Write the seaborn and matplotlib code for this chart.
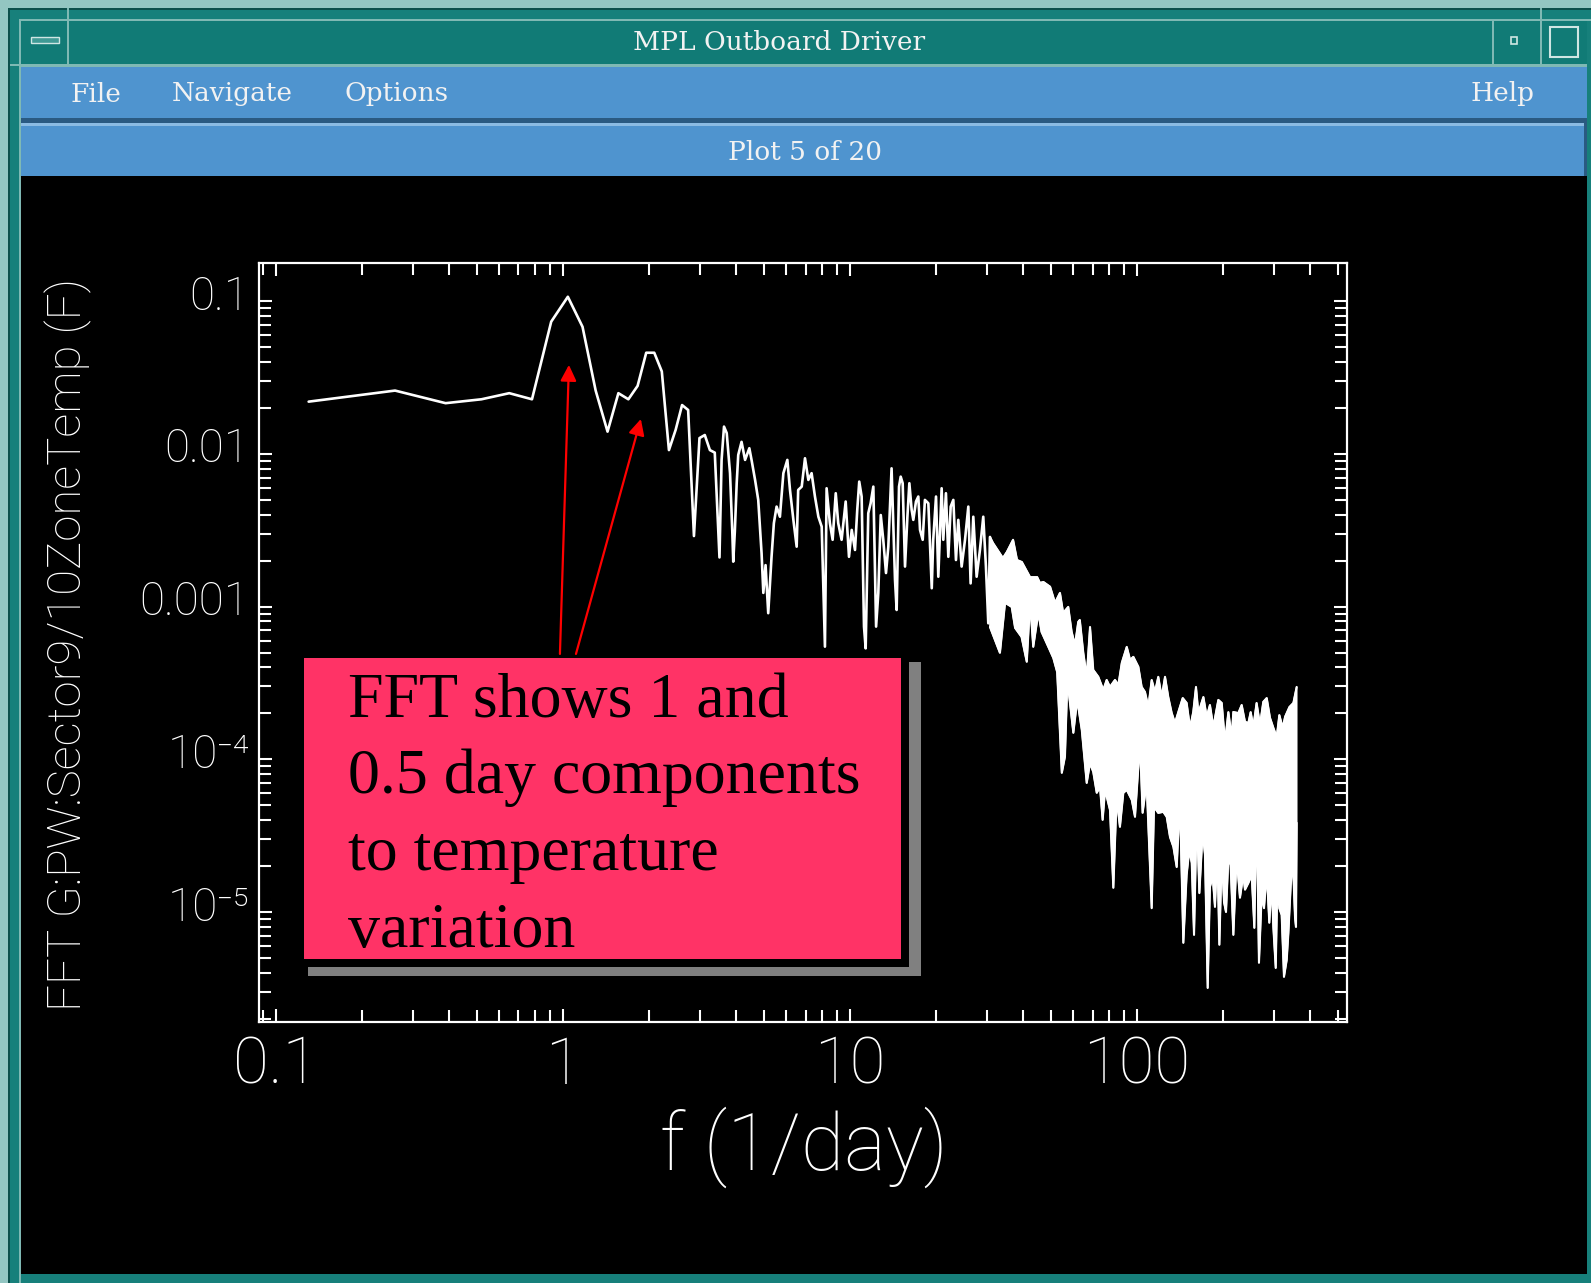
import numpy as np
import pandas as pd
import matplotlib
matplotlib.use("Agg")
import matplotlib.pyplot as plt
import matplotlib.ticker as mticker
import matplotlib.transforms as mtransforms
from matplotlib.patches import Rectangle
import seaborn as sns

# ---------------- data ----------------
# low-frequency FFT bins (1/day) and amplitude (F)
freq_low = [0.13, 0.26, 0.39, 0.52, 0.65, 0.78, 0.91, 1.04, 1.17, 1.30, 1.43, 1.56,
            1.69, 1.82, 1.95, 2.08, 2.21, 2.34, 2.47, 2.60, 2.73, 2.86, 2.99, 3.12,
            3.25, 3.38, 3.51]
amp_low = [0.022, 0.026, 0.0215, 0.0228, 0.025, 0.0228, 0.0735, 0.107, 0.068, 0.026,
           0.014, 0.025, 0.0228, 0.0279, 0.046, 0.046, 0.0347, 0.0106, 0.0144, 0.0209,
           0.0194, 0.0029, 0.0127, 0.0133, 0.0106, 0.0102, 0.0021]

# mid frequencies (traced vertices of the spiky line)
freq_mid = [3.57, 3.64, 3.72, 3.82, 3.89, 3.92, 3.97, 4.03, 4.08, 4.19, 4.31, 4.46, 4.54,
            4.67, 4.79, 4.92, 4.99, 5.08, 5.19, 5.33, 5.43, 5.55, 5.70, 5.86, 6.05, 6.18,
            6.35, 6.52, 6.60, 6.79, 6.97, 7.16, 7.35, 7.55, 7.76, 7.97, 8.18, 8.29, 8.51,
            8.70, 8.92, 9.10, 9.35, 9.66, 9.92, 10.14, 10.41, 10.60, 10.77, 10.98, 11.19,
            11.34, 11.58, 11.80, 12.06, 12.33, 12.55, 12.80, 13.06, 13.35, 13.60, 13.96,
            14.35, 14.54, 14.82,
            15.02, 15.26, 15.55, 15.85, 16.10, 16.40, 16.62, 16.98, 17.30, 17.54, 17.92,
            18.24, 18.75, 19.27, 19.50, 19.94, 20.31, 20.86, 21.14, 21.59, 22.01, 22.43,
            22.91, 23.40, 23.84, 24.49, 25.16, 25.84, 26.32, 26.89, 27.62, 28.36, 29.13,
            29.76, 30.33]
amp_mid = [0.00914, 0.0151, 0.0137, 0.00748, 0.00310, 0.00197, 0.00310, 0.00643, 0.00985,
           0.0120, 0.00914, 0.0109, 0.00914, 0.00676, 0.00500, 0.00224, 0.00123, 0.00187,
           0.000906, 0.00212, 0.00352, 0.00452, 0.00388, 0.00748, 0.00914, 0.00581,
           0.00370, 0.00247, 0.00581, 0.00611, 0.00937, 0.00676, 0.00748, 0.00526, 0.00388,
           0.00334, 0.000547, 0.00596, 0.00352, 0.00274, 0.00553, 0.00352, 0.00274,
           0.00488, 0.00212, 0.00318, 0.00235, 0.00430, 0.00659, 0.00526, 0.000740,
           0.000533, 0.00409, 0.00475, 0.00611, 0.000740, 0.00123, 0.00398, 0.00274,
           0.00166, 0.00247, 0.00805, 0.00150, 0.000951, 0.00611,
           0.00710, 0.00643, 0.00183, 0.00388, 0.00643, 0.00430, 0.00370, 0.00488,
           0.00526, 0.00318, 0.00274, 0.00500, 0.00475, 0.00132, 0.00274, 0.00526,
           0.00157, 0.00596, 0.00274, 0.00553, 0.00212, 0.00452, 0.00500, 0.00202,
           0.00370, 0.00183, 0.00274, 0.00452, 0.00142, 0.00388, 0.00157, 0.00235,
           0.00388, 0.00183, 0.000778]

# high frequencies: dense band, upper and lower envelopes
freq_up = [30.74, 31.5, 34.1, 35.2, 37.0, 38.2, 39.7, 42.4, 44.9, 45.9, 47.2, 49.8, 51.8,
           53.9, 55.3, 57.6, 59.2, 60.8, 62.4, 63.2, 65.0, 66.8, 68.6, 70.4, 73.3, 76.3,
           78.4, 80.5, 83.8, 86.1, 88.5, 92.1, 94.6, 97.1, 101.1, 103.8, 106.6, 109.5,
           112.5, 115.5, 118.6, 121.9, 125.2, 128.5, 132.1, 135.6, 139.3, 144.3, 148.9,
           153.0, 157.0, 160.5, 163.6, 170.3, 174.9, 179.5, 184.4, 192.0, 197.3, 202.6,
           208.1, 213.7, 216.6, 225.5, 231.6, 237.8, 244.3, 248.9, 254.2, 261.0, 268.2,
           275.4, 283.1, 290.6, 298.5, 306.7, 313.2, 321.9, 328.0, 339.6, 350.6, 360.0]
amp_up = [0.00286, 0.00261, 0.00208, 0.00228, 0.00274, 0.00202, 0.00196, 0.00156, 0.00156,
          0.00143, 0.00145, 0.00135, 0.00106, 0.00123, 0.000910, 0.000996, 0.000683,
          0.000561, 0.000794, 0.000818, 0.000498, 0.000347, 0.000736, 0.000385, 0.000347,
          0.000285, 0.000331, 0.000298, 0.000331, 0.000307, 0.000428, 0.000545, 0.000448,
          0.000469, 0.000403, 0.000298, 0.000276, 0.000220, 0.000331, 0.000276, 0.000347,
          0.000256, 0.000347, 0.000256, 0.000201, 0.000173, 0.000204, 0.000252, 0.000234,
          0.000161, 0.000204, 0.000298, 0.000201, 0.000256, 0.000190, 0.000227, 0.000163,
          0.000245, 0.000234, 0.000130, 0.000204, 0.000140, 0.000204, 0.000201, 0.000227,
          0.000176, 0.000173, 0.000204, 0.000163, 0.000234, 0.000168, 0.000238, 0.000252,
          0.000187, 0.000161, 0.000140, 0.000195, 0.000161, 0.000190, 0.000220, 0.000234,
          0.000298]
freq_lo = [30.74, 33.3, 34.7, 36.6, 37.6, 39.6, 41.3, 42.4, 43.5, 45.3, 46.5, 49.1, 51.1,
           52.7, 54.7, 56.1, 57.2, 60.0, 61.9, 64.2, 66.8, 68.6, 70.4, 72.4, 74.3, 75.9,
           77.4, 80.5, 82.7, 84.9, 87.2, 89.6, 92.1, 95.9, 98.4, 102.4, 104.6, 108.0,
           112.5, 114.6, 118.6, 123.5, 126.9, 130.3, 133.9, 137.5, 141.1, 145.0, 148.9,
           152.1, 155.1, 158.0, 161.5, 164.9, 169.3, 172.5, 176.3, 179.5, 183.5, 186.9,
           190.5, 193.6, 197.3, 201.0, 204.2, 208.1, 211.9, 216.6, 222.3, 228.4, 234.5,
           237.8, 244.3, 250.9, 256.3, 261.0, 266.0, 271.8, 277.0, 283.1, 289.0, 294.5,
           298.5, 304.3, 308.3, 313.2, 319.1, 325.1, 332.3, 336.8, 343.2, 348.8, 355.3,
           358.0, 360.0]
amp_lo = [0.000736, 0.000498, 0.00106, 0.000996, 0.000726, 0.000634, 0.000435, 0.00106,
          0.000545, 0.000910, 0.000683, 0.000545, 0.000461, 0.000373, 8.15e-5, 0.000104,
          0.000331, 0.000149, 0.000245, 0.000156, 7.0e-5, 9.46e-5, 8.26e-5, 6.03e-5,
          6.6e-5, 4.01e-5, 6.31e-5, 4.67e-5, 1.44e-5, 5.58e-5, 3.61e-5, 6.03e-5, 6.31e-5,
          5.42e-5, 4.2e-5, 0.000128, 4.46e-5, 7.0e-5, 1.06e-5, 4.88e-5, 4.46e-5, 4.53e-5,
          4.2e-5, 3.1e-5, 2.67e-5, 1.97e-5, 5.42e-5, 6.28e-6, 1.75e-5, 2.55e-5, 2.1e-5,
          7.08e-6, 4.53e-5, 1.33e-5, 3.35e-5, 2.37e-5, 3.18e-6, 1.46e-5, 1.7e-5, 1.08e-5,
          2.55e-5, 6.1e-6, 2.37e-5, 1.16e-5, 1.0e-5, 2.26e-5, 2.03e-5, 7.08e-6, 2.3e-5,
          1.24e-5, 1.75e-5, 1.4e-5, 1.55e-5, 1.75e-5, 7.87e-6, 5.18e-5, 4.65e-6, 1.29e-5,
          1.06e-5, 1.83e-5, 8.5e-6, 1.57e-5, 7.98e-6, 4.3e-6, 1.55e-5, 1.06e-5, 9.57e-6,
          3.76e-6, 4.85e-6, 7.3e-6, 1.5e-5, 2.26e-5, 9.14e-6, 7.98e-6, 3.84e-5]

x_ticks = [0.1, 1, 10, 100]
x_tick_labels = ["0.1", "1", "10", "100"]
y_ticks = [1e-5, 1e-4, 1e-3, 1e-2, 1e-1]
y_tick_labels = ["10\u207b\u2075", "10\u207b\u2074", "0.001", "0.01", "0.1"]
x_range = (0.0873, 539.0)
y_range = (1.905e-6, 0.178)

arrow_heads = [(1.049, 0.0383), (1.868, 0.01694)]
arrow_tails = [(0.976, 4.9e-4), (1.110, 4.9e-4)]

window_title = "MPL Outboard Driver"
menu_items = ["File", "Navigate", "Options"]
help_item = "Help"
plot_caption = "Plot 5 of 20"
x_label = "f (1/day)"
y_label = "FFT G:PW:Sector9/10ZoneTemp (F)"
note_lines = ["FFT shows 1 and", "0.5 day components", "to temperature", "variation"]

# ---------------- styling ----------------
W, H, DPI = 1591, 1283, 100
FRAME_LIGHT = "#93c6c2"
FRAME_TEAL = "#17807b"
FRAME_DARK = "#0c4f4b"
TITLE_TEAL = "#117b76"
MENU_BLUE = "#4f94cf"
MENU_DARK = "#2a5a82"
MENU_LIGHT = "#8bbbe3"
PINK = "#ff3366"
CHROME_TXT = "#f2f2f2"
AXIS_FONT = ["Roboto", "DejaVu Sans"]
AXIS_WEIGHT = "light"

sns.set_theme(style="dark", rc={"axes.facecolor": "black", "figure.facecolor": FRAME_LIGHT})
plt.rcParams["font.family"] = AXIS_FONT
plt.rcParams["font.weight"] = AXIS_WEIGHT

fig = plt.figure(figsize=(W / DPI, H / DPI), dpi=DPI, facecolor=FRAME_LIGHT)


def rect(x0, y0, x1, y1, fc, ec="none", lw=0.0, z=-5):
    r = Rectangle((x0 / W, 1 - y1 / H), (x1 - x0) / W, (y1 - y0) / H,
                  transform=fig.transFigure, facecolor=fc, edgecolor=ec,
                  linewidth=lw, zorder=z)
    fig.add_artist(r)
    return r


def ftext(x, y, s, z=-4, **kw):
    return fig.text(x / W, 1 - y / H, s, zorder=z, **kw)


chrome_font = dict(family="DejaVu Serif", fontsize=19, color=CHROME_TXT, fontweight="normal")

# window frame
rect(8, 8, W, H, FRAME_TEAL)
rect(8, 8, W, 10, FRAME_DARK)
rect(8, 8, 10, H, FRAME_DARK)
rect(19, 19, W, 21, "#7fb9b4")
rect(19, 19, 21, H, "#7fb9b4")
# title bar
rect(21, 21, 1587, 64, TITLE_TEAL)
rect(21, 64, 1587, 67, "#7fb9b4")
rect(67, 8, 69, 67, "#7fb9b4")
rect(10, 64, 69, 66, "#7fb9b4")
rect(31, 37, 59, 43, "#3f9a95", ec="#cfe6e3", lw=1.0, z=-4)
rect(1492, 21, 1494, 64, "#7fb9b4", z=-4)
rect(1540, 8, 1542, 64, "#7fb9b4", z=-4)
rect(1511, 37, 1517, 44, "none", ec="#cfe6e3", lw=1.2, z=-4)
rect(1550, 27, 1578, 57, "none", ec="#cfe6e3", lw=1.5, z=-4)
ftext(779, 43, window_title, ha="center", va="center", **chrome_font)
# menu bar
rect(21, 67, 1587, 118, MENU_BLUE)
rect(21, 118, 1587, 123, MENU_DARK)
for name, xl in zip(menu_items, [71, 172, 344]):
    ftext(xl, 94, name, ha="left", va="center", **chrome_font)
ftext(1471, 94, help_item, ha="left", va="center", **chrome_font)
# plot caption bar
rect(21, 123, 1584, 126, MENU_LIGHT)
rect(21, 126, 1584, 176, MENU_BLUE)
rect(1584, 123, 1587, 176, MENU_DARK)
ftext(805, 152, plot_caption, ha="center", va="center", **chrome_font)
# black drawing area
rect(21, 176, 1587, 1274, "black")

# ---------------- the plot ----------------
ax = fig.add_axes([259 / W, 1 - 1022 / H, 1088 / W, 759 / H], facecolor="black")
ax.set_xscale("log")
ax.set_yscale("log")

line_df = pd.DataFrame({"f": freq_low + freq_mid + [freq_up[0]],
                        "amp": amp_low + amp_mid + [amp_up[0]]})
sns.lineplot(data=line_df, x="f", y="amp", ax=ax, color="white", linewidth=1.9,
             estimator=None, sort=False, zorder=3)

band_f = np.concatenate([np.array(freq_up), np.array(freq_lo)[::-1]])
band_v = np.concatenate([np.array(amp_up), np.array(amp_lo)[::-1]])
ax.fill(band_f, band_v, color="white", linewidth=1.2, edgecolor="white", zorder=3)
sns.lineplot(x=freq_up, y=amp_up, ax=ax, color="white", linewidth=1.5,
             estimator=None, sort=False, zorder=3)
sns.lineplot(x=freq_lo, y=amp_lo, ax=ax, color="white", linewidth=1.5,
             estimator=None, sort=False, zorder=3)

ax.set_xlim(*x_range)
ax.set_ylim(*y_range)
ax.grid(False)
for sp in ax.spines.values():
    sp.set_color("white")
    sp.set_linewidth(1.6)
    sp.set_visible(True)

ax.xaxis.set_major_locator(mticker.FixedLocator(x_ticks))
ax.xaxis.set_major_formatter(mticker.FixedFormatter(x_tick_labels))
ax.yaxis.set_major_locator(mticker.FixedLocator(y_ticks))
ax.yaxis.set_major_formatter(mticker.FixedFormatter(y_tick_labels))
ax.xaxis.set_minor_locator(mticker.LogLocator(base=10, subs=np.arange(2, 10), numticks=100))
ax.yaxis.set_minor_locator(mticker.LogLocator(base=10, subs=np.arange(2, 10), numticks=100))
ax.xaxis.set_minor_formatter(mticker.NullFormatter())
ax.yaxis.set_minor_formatter(mticker.NullFormatter())

ax.tick_params(which="both", direction="in", top=True, right=True, bottom=True, left=True,
               color="white", width=1.5)
ax.tick_params(which="major", length=9.5)
ax.tick_params(which="minor", length=8.5)
ax.tick_params(axis="x", which="major", labelsize=47, labelcolor="white", pad=9)
ax.tick_params(axis="y", which="major", labelsize=33, labelcolor="white", pad=7)

ax.set_xlabel(x_label, fontsize=57, color="white", fontweight=AXIS_WEIGHT)
ax.xaxis.set_label_coords(0.501, -0.165)
ax.xaxis.label.set_va("center")
ax.set_ylabel(y_label, fontsize=34, color="white", fontweight=AXIS_WEIGHT)
ax.yaxis.set_label_coords(-0.1756, 0.498)
ax.yaxis.label.set_va("center")

# y tick labels sit a little above their ticks, as in the original
lift = mtransforms.ScaledTranslation(0, 9 / DPI, fig.dpi_scale_trans)
for tk in ax.yaxis.get_major_ticks():
    tk.label1.set_transform(tk.label1.get_transform() + lift)
for lbl in ax.get_xticklabels() + ax.get_yticklabels():
    lbl.set_fontweight(AXIS_WEIGHT)

# red arrows pointing to the 1-day and 0.5-day peaks
for head, tail in zip(arrow_heads, arrow_tails):
    ax.annotate("", xy=head, xytext=tail, xycoords="data", textcoords="data",
                arrowprops=dict(arrowstyle="-|>", color="red", lw=1.6,
                                mutation_scale=24, shrinkA=0, shrinkB=0),
                zorder=4, annotation_clip=False)

# ---------------- annotation box ----------------
rect(308, 662, 921, 976, "#808080", z=5)
rect(300, 655, 909, 967, "black", z=5.1)
rect(303.5, 658, 901, 959, PINK, z=5.2)
for line, yb in zip(note_lines, [717, 793, 870, 947]):
    ftext(348, yb, line, z=6, family="Liberation Serif", fontsize=46, color="black",
          fontweight="normal", ha="left", va="baseline")

fig.savefig("out.png", dpi=DPI, facecolor=FRAME_LIGHT)
